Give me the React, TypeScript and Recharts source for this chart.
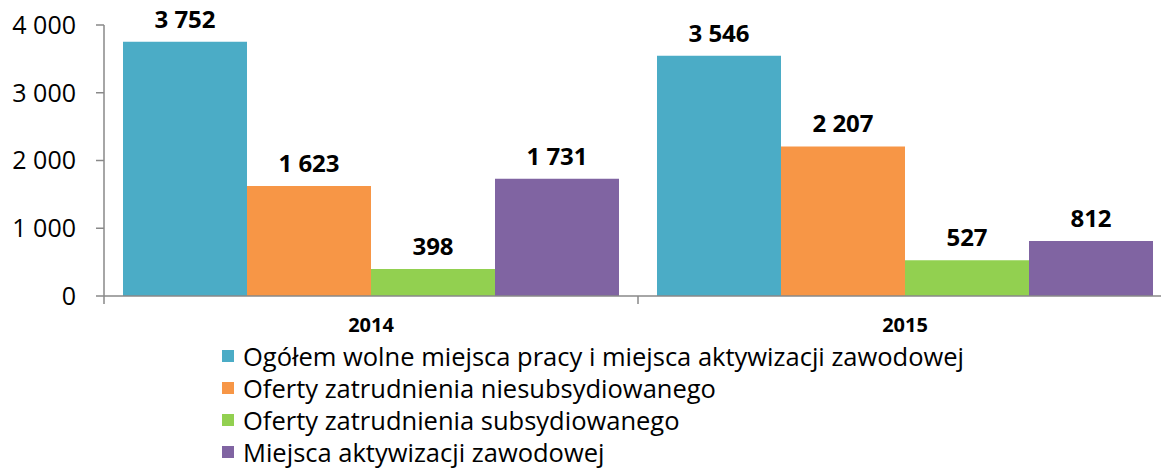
import React from 'react'
import { BarChart, Bar, XAxis, YAxis, LabelList } from 'recharts'

const years = ['2014', '2015']
const ogolem = [3752, 3546]
const niesubsydiowane = [1623, 2207]
const subsydiowane = [398, 527]
const aktywizacja = [1731, 812]
const yTicks = [0, 1000, 2000, 3000, 4000]

const seriesNames = [
  'Ogółem wolne miejsca pracy i miejsca aktywizacji zawodowej',
  'Oferty zatrudnienia niesubsydiowanego',
  'Oferty zatrudnienia subsydiowanego',
  'Miejsca aktywizacji zawodowej',
]
const colors = ['#4BACC6', '#F79646', '#92D050', '#8064A2']
const keys = ['ogolem', 'nies', 'subs', 'akt']

const data = years.map((y, i) => ({
  year: y,
  ogolem: ogolem[i],
  nies: niesubsydiowane[i],
  subs: subsydiowane[i],
  akt: aktywizacja[i],
}))

const W = 1180
const H = 470
const Y_AXIS_W = 104
const M_RIGHT = 8
const BAND = (W - Y_AXIS_W - M_RIGHT) / years.length
const FONT = '"Open Sans", sans-serif'
const AXIS = '#898989'

const fmt = (v: any) => String(v).replace(/\B(?=(\d{3})+(?!\d))/g, ' ')

function YearTick({ x, y, payload }: any) {
  return (
    <g>
      <line x1={x - BAND / 2} y1={y} x2={x - BAND / 2} y2={y + 8} stroke={AXIS} strokeWidth={1.5} />
      <text x={x} y={y + 31} textAnchor="middle" dominantBaseline="middle" fontFamily={FONT} fontWeight="bold" fontSize={20} fill="#000">
        {payload.value}
      </text>
    </g>
  )
}

export default function App() {
  return (
    <div style={{ position: 'fixed', left: 0, top: 0, width: 1161, height: 470, overflow: 'hidden', background: '#fff' }}>
      <BarChart width={W} height={H} data={data} margin={{ top: 25, right: M_RIGHT, left: 0, bottom: 0 }} barCategoryGap={19} barGap={0}>
        <XAxis dataKey="year" height={174} tickSize={0} tickMargin={0} tick={<YearTick />} axisLine={{ stroke: AXIS, strokeWidth: 1.5 }} />
        <YAxis
          width={Y_AXIS_W}
          domain={[0, 4000]}
          ticks={yTicks}
          tickFormatter={fmt}
          tickSize={8}
          tickMargin={20}
          axisLine={{ stroke: AXIS, strokeWidth: 1.5 }}
          tickLine={{ stroke: AXIS, strokeWidth: 1.5 }}
          tick={{ fill: '#000', fontSize: 25, fontFamily: FONT }}
        />
        {keys.map((k, i) => (
          <Bar key={k} dataKey={k} name={seriesNames[i]} fill={colors[i]} isAnimationActive={false}>
            <LabelList dataKey={k} position="top" offset={14} formatter={fmt} style={{ fill: '#000', fontSize: 24, fontWeight: 'bold', fontFamily: FONT }} />
          </Bar>
        ))}
      </BarChart>
      <div style={{ position: 'absolute', left: 222, top: 340, fontFamily: FONT, fontSize: 25.5, lineHeight: 1.1, color: '#000' }}>
        {seriesNames.map((n, i) => (
          <div key={n} style={{ display: 'flex', alignItems: 'center', height: 32 }}>
            <span style={{ width: 12, height: 12, background: colors[i], marginRight: 9, display: 'inline-block', flexShrink: 0 }} />
            <span style={{ whiteSpace: 'nowrap' }}>{n}</span>
          </div>
        ))}
      </div>
    </div>
  )
}
